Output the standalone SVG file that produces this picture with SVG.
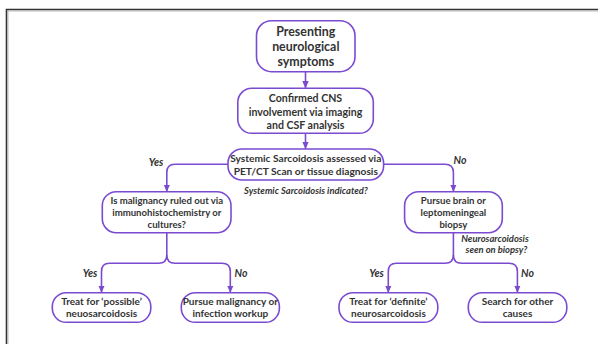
<svg xmlns="http://www.w3.org/2000/svg" width="598" height="344" viewBox="0 0 598 344">
<defs>
<marker id="ah" markerUnits="userSpaceOnUse" markerWidth="8" markerHeight="8" viewBox="0 0 8 8" refX="7" refY="4" orient="auto">
<path d="M0,0.8 L7.5,4 L0,7.2 Z" fill="#7a4bd0"/>
</marker>
</defs>
<style>
.node rect{fill:#fff;stroke:#7a4bd0;stroke-width:1.6}
.node text{font-family:Lato,"Open Sans",sans-serif;font-weight:bold;fill:#333;text-anchor:middle}
.conn path{fill:none;stroke:#7a4bd0;stroke-width:1.6}
.lbl{font-family:Lato,"Open Sans",sans-serif;font-weight:bold;font-style:italic;fill:#333;text-anchor:middle}
</style>
<rect x="0" y="0" width="598" height="344" fill="#fff"/>
<path d="M6.5,344 V9.5 H598" fill="none" stroke="#333" stroke-width="1.6"/>
<path d="M8,344 V11 H598" fill="none" stroke="#aaa" stroke-width="0.8"/>

<g class="conn" id="connectors">
<path d="M305.5,71.7 V88" marker-end="url(#ah)"/>
<path d="M305.5,133.3 V148.7" marker-end="url(#ah)"/>
<path d="M228,164.3 H175 Q166.8,164.3 166.8,172.5 V191.5" marker-end="url(#ah)"/>
<path d="M383.6,164.3 H445 Q453.4,164.3 453.4,172.5 V191.5" marker-end="url(#ah)"/>
<path d="M166.8,232.7 V255 Q166.8,263.3 158.5,263.3 H109.5 Q101.5,263.3 101.5,271.5 V292.5" marker-end="url(#ah)"/>
<path d="M166.8,255 Q166.8,263.3 175,263.3 H222 Q230.3,263.3 230.3,271.5 V292.5" marker-end="url(#ah)"/>
<path d="M453.4,232.7 V255 Q453.4,263.3 445,263.3 H396.5 Q388.3,263.3 388.3,271.5 V292.5" marker-end="url(#ah)"/>
<path d="M453.4,255 Q453.4,263.3 461.5,263.3 H509 Q517.4,263.3 517.4,271.5 V292.5" marker-end="url(#ah)"/>
</g>

<g id="labels">
<text class="lbl" x="156" y="166" font-size="10.5">Yes</text>
<text class="lbl" x="460" y="164" font-size="10.5">No</text>
<text class="lbl" x="306" y="194" font-size="9.4">Systemic Sarcoidosis indicated?</text>
<text class="lbl" x="495" y="241.6" font-size="9.4">Neurosarcoidosis</text>
<text class="lbl" x="496.5" y="252.6" font-size="9.4">seen on biopsy?</text>
<text class="lbl" x="90" y="277" font-size="10.5">Yes</text>
<text class="lbl" x="241" y="277" font-size="10.5">No</text>
<text class="lbl" x="376.5" y="277" font-size="10.5">Yes</text>
<text class="lbl" x="527.5" y="277" font-size="10.5">No</text>
</g>

<g class="node" id="n1">
<rect x="256.5" y="20.7" width="98.5" height="51" rx="15"/>
<text font-size="12.4"><tspan x="305.8" y="36">Presenting</tspan><tspan x="305.8" y="50.8">neurological</tspan><tspan x="305.8" y="65.5">symptoms</tspan></text>
</g>
<g class="node" id="n2">
<rect x="237.8" y="88.3" width="135.5" height="45" rx="14"/>
<text font-size="10.6"><tspan x="305.5" y="102.2">Confirmed CNS</tspan><tspan x="305.5" y="115.5">involvement via imaging</tspan><tspan x="305.5" y="128.5">and CSF analysis</tspan></text>
</g>
<g class="node" id="n3">
<rect x="228" y="149" width="155.6" height="31" rx="14"/>
<text font-size="10.2"><tspan x="305.8" y="162.4">Systemic Sarcoidosis assessed via</tspan><tspan x="305.8" y="174.7">PET/CT Scan or tissue diagnosis</tspan></text>
</g>
<g class="node" id="n4">
<rect x="102.3" y="191.7" width="128.7" height="41" rx="14"/>
<text font-size="9.6"><tspan x="166.8" y="203.8">Is malignancy ruled out via</tspan><tspan x="166.8" y="215.8">immunohistochemistry or</tspan><tspan x="166.8" y="227.5">cultures?</tspan></text>
</g>
<g class="node" id="n5">
<rect x="404.6" y="191.7" width="97.7" height="41" rx="14"/>
<text font-size="9.6"><tspan x="453.4" y="203.8">Pursue brain or</tspan><tspan x="453.4" y="215.8">leptomeningeal</tspan><tspan x="453.4" y="227.5">biopsy</tspan></text>
</g>
<g class="node" id="n6">
<rect x="52.3" y="292.7" width="98.5" height="29.6" rx="14"/>
<text font-size="10"><tspan x="101.5" y="305.2">Treat for ‘possible’</tspan><tspan x="101.5" y="317">neuosarcoidosis</tspan></text>
</g>
<g class="node" id="n7">
<rect x="181.3" y="292.7" width="98.1" height="29.6" rx="14"/>
<text font-size="10"><tspan x="230.3" y="305.2">Pursue malignancy or</tspan><tspan x="230.3" y="317">infection workup</tspan></text>
</g>
<g class="node" id="n8">
<rect x="339" y="292.7" width="98.8" height="29.6" rx="14"/>
<text font-size="10"><tspan x="388.4" y="305.2">Treat for ‘definite’</tspan><tspan x="388.4" y="317">neurosarcoidosis</tspan></text>
</g>
<g class="node" id="n9">
<rect x="468.3" y="292.7" width="98.5" height="29.6" rx="14"/>
<text font-size="10"><tspan x="517.5" y="305.2">Search for other</tspan><tspan x="517.5" y="317">causes</tspan></text>
</g>
</svg>
